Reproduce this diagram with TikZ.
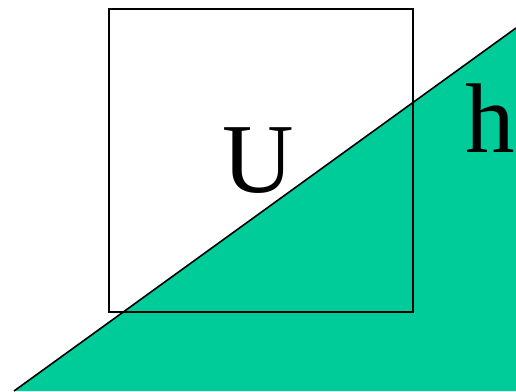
\documentclass[tikz,border=0pt]{standalone}
\usepackage{fontspec}
\setmainfont{Liberation Serif}
\definecolor{tealgreen}{HTML}{00CC99}
\tikzset{
  outline/.style={draw=black,line width=1.6},
  bigtext/.style={font=\fontsize{99}{99}\selectfont,inner sep=0pt,anchor=base}
}
\begin{document}
\begin{tikzpicture}[x=1pt,y=-1pt]
\useasboundingbox (0,0) rectangle (516,391);
\coordinate (tl) at (14,391);
\coordinate (tr) at (516,28);
\coordinate (br) at (516,391);
\fill[tealgreen] (tl) -- (tr) -- (br) -- cycle;
\draw[outline] (tl) -- (tr);
\node[outline,minimum width=304,minimum height=303,inner sep=0pt,anchor=north west] (sq) at (108,8) {};
\node[bigtext] (u) at (258,192) {U};
\node[bigtext] (h) at (490,152) {h};
\end{tikzpicture}
\end{document}
